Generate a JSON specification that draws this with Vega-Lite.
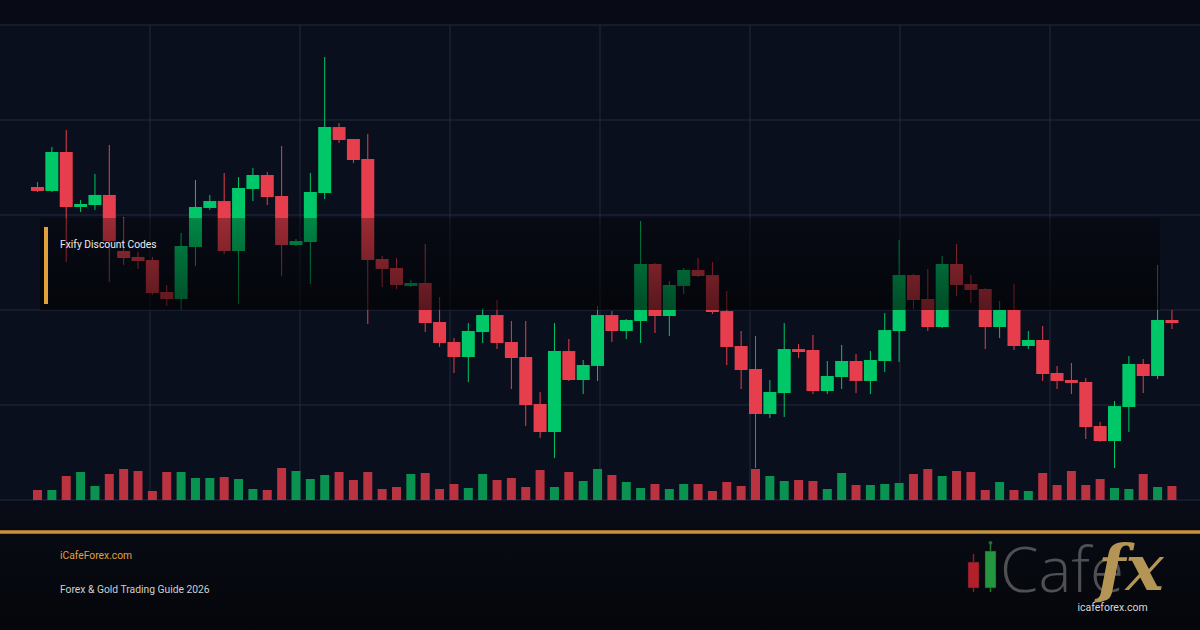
{
  "$schema": "https://vega.github.io/schema/vega-lite/v6.json",
  "width": 1200,
  "height": 630,
  "autosize": "none",
  "padding": 0,
  "background": "#0a0f1d",
  "config": {"view": {"stroke": null}, "font": "Roboto", "axis": {"disable": true}},
  "datasets": {
    "candles": [
      {"i":0,"o":2032.95,"h":2033.47,"l":2032.42,"c":2032.53,"v":1000,"d":"down"},
      {"i":1,"o":2032.53,"h":2037.16,"l":2032.42,"c":2036.63,"v":1000,"d":"up"},
      {"i":2,"o":2036.63,"h":2038.95,"l":2025.05,"c":2030.84,"v":2400,"d":"down"},
      {"i":3,"o":2030.84,"h":2031.58,"l":2030.32,"c":2031.16,"v":2800,"d":"up"},
      {"i":4,"o":2031.05,"h":2034.32,"l":2030.53,"c":2032.11,"v":1400,"d":"up"},
      {"i":5,"o":2032.11,"h":2037.37,"l":2022.95,"c":2027.26,"v":2600,"d":"down"},
      {"i":6,"o":2026.21,"h":2029.79,"l":2024.74,"c":2025.47,"v":3100,"d":"down"},
      {"i":7,"o":2025.58,"h":2026.11,"l":2024.32,"c":2025.16,"v":2900,"d":"down"},
      {"i":8,"o":2025.26,"h":2025.58,"l":2021.58,"c":2021.79,"v":900,"d":"down"},
      {"i":9,"o":2021.89,"h":2022.63,"l":2020.42,"c":2021.16,"v":2800,"d":"down"},
      {"i":10,"o":2021.16,"h":2028.11,"l":2020.0,"c":2026.74,"v":2800,"d":"up"},
      {"i":11,"o":2026.63,"h":2033.68,"l":2024.63,"c":2030.84,"v":2200,"d":"up"},
      {"i":12,"o":2030.74,"h":2032.11,"l":2030.53,"c":2031.47,"v":2200,"d":"up"},
      {"i":13,"o":2031.47,"h":2034.42,"l":2025.89,"c":2026.21,"v":2300,"d":"down"},
      {"i":14,"o":2026.21,"h":2034.0,"l":2020.63,"c":2032.84,"v":2100,"d":"up"},
      {"i":15,"o":2032.74,"h":2034.95,"l":2031.47,"c":2034.21,"v":1100,"d":"up"},
      {"i":16,"o":2034.21,"h":2034.53,"l":2031.05,"c":2031.89,"v":1000,"d":"down"},
      {"i":17,"o":2032.0,"h":2037.26,"l":2023.58,"c":2026.84,"v":3200,"d":"down"},
      {"i":18,"o":2026.84,"h":2027.47,"l":2026.74,"c":2027.26,"v":2900,"d":"up"},
      {"i":19,"o":2027.16,"h":2034.42,"l":2022.74,"c":2032.42,"v":2100,"d":"up"},
      {"i":20,"o":2032.32,"h":2046.63,"l":2031.68,"c":2039.26,"v":2500,"d":"up"},
      {"i":21,"o":2039.26,"h":2039.68,"l":2037.58,"c":2037.89,"v":2800,"d":"down"},
      {"i":22,"o":2038.0,"h":2038.0,"l":2035.47,"c":2035.79,"v":2000,"d":"down"},
      {"i":23,"o":2035.89,"h":2038.53,"l":2018.53,"c":2025.26,"v":2800,"d":"down"},
      {"i":24,"o":2025.37,"h":2025.68,"l":2022.42,"c":2024.32,"v":1100,"d":"down"},
      {"i":25,"o":2024.42,"h":2025.47,"l":2022.21,"c":2022.63,"v":1300,"d":"down"},
      {"i":26,"o":2022.53,"h":2023.16,"l":2022.42,"c":2022.84,"v":2600,"d":"up"},
      {"i":27,"o":2022.84,"h":2026.95,"l":2017.68,"c":2018.63,"v":2700,"d":"down"},
      {"i":28,"o":2018.74,"h":2021.37,"l":2016.11,"c":2016.53,"v":1100,"d":"down"},
      {"i":29,"o":2016.63,"h":2017.05,"l":2013.37,"c":2015.05,"v":1600,"d":"down"},
      {"i":30,"o":2015.05,"h":2018.63,"l":2012.42,"c":2017.79,"v":1200,"d":"up"},
      {"i":31,"o":2017.68,"h":2020.21,"l":2016.53,"c":2019.47,"v":2600,"d":"up"},
      {"i":32,"o":2019.47,"h":2021.05,"l":2015.89,"c":2016.53,"v":2000,"d":"down"},
      {"i":33,"o":2016.63,"h":2018.84,"l":2011.68,"c":2014.95,"v":2200,"d":"down"},
      {"i":34,"o":2015.05,"h":2018.84,"l":2007.79,"c":2010.0,"v":1300,"d":"down"},
      {"i":35,"o":2010.11,"h":2011.37,"l":2006.53,"c":2007.16,"v":3000,"d":"down"},
      {"i":36,"o":2007.16,"h":2018.63,"l":2004.42,"c":2015.68,"v":1300,"d":"up"},
      {"i":37,"o":2015.68,"h":2016.95,"l":2012.53,"c":2012.63,"v":2800,"d":"down"},
      {"i":38,"o":2012.63,"h":2014.74,"l":2011.16,"c":2014.21,"v":1900,"d":"up"},
      {"i":39,"o":2014.11,"h":2020.42,"l":2012.53,"c":2019.47,"v":3100,"d":"up"},
      {"i":40,"o":2019.47,"h":2019.89,"l":2016.63,"c":2017.79,"v":2500,"d":"down"},
      {"i":41,"o":2017.79,"h":2019.05,"l":2016.95,"c":2018.95,"v":1800,"d":"up"},
      {"i":42,"o":2018.84,"h":2029.37,"l":2016.53,"c":2024.84,"v":1200,"d":"up"},
      {"i":43,"o":2024.84,"h":2024.95,"l":2017.58,"c":2019.37,"v":1600,"d":"down"},
      {"i":44,"o":2019.37,"h":2023.05,"l":2017.26,"c":2022.63,"v":1100,"d":"up"},
      {"i":45,"o":2022.53,"h":2024.42,"l":2021.68,"c":2024.21,"v":1600,"d":"up"},
      {"i":46,"o":2024.21,"h":2025.47,"l":2023.47,"c":2023.58,"v":1600,"d":"down"},
      {"i":47,"o":2023.68,"h":2025.05,"l":2019.58,"c":2019.79,"v":900,"d":"down"},
      {"i":48,"o":2019.89,"h":2022.0,"l":2014.21,"c":2016.11,"v":1800,"d":"down"},
      {"i":49,"o":2016.21,"h":2017.79,"l":2011.68,"c":2013.68,"v":1400,"d":"down"},
      {"i":50,"o":2013.79,"h":2017.26,"l":2003.37,"c":2009.05,"v":3100,"d":"down"},
      {"i":51,"o":2009.05,"h":2012.63,"l":2008.63,"c":2011.37,"v":2400,"d":"up"},
      {"i":52,"o":2011.26,"h":2018.63,"l":2008.74,"c":2015.89,"v":1900,"d":"up"},
      {"i":53,"o":2015.89,"h":2016.42,"l":2014.95,"c":2015.58,"v":2000,"d":"down"},
      {"i":54,"o":2015.79,"h":2017.37,"l":2011.16,"c":2011.47,"v":1900,"d":"down"},
      {"i":55,"o":2011.47,"h":2014.63,"l":2011.16,"c":2013.05,"v":1100,"d":"up"},
      {"i":56,"o":2012.95,"h":2016.32,"l":2011.68,"c":2014.63,"v":2700,"d":"up"},
      {"i":57,"o":2014.63,"h":2015.37,"l":2011.26,"c":2012.53,"v":1500,"d":"down"},
      {"i":58,"o":2012.53,"h":2015.68,"l":2011.16,"c":2014.74,"v":1500,"d":"up"},
      {"i":59,"o":2014.63,"h":2019.68,"l":2013.47,"c":2017.89,"v":1600,"d":"up"},
      {"i":60,"o":2017.79,"h":2027.37,"l":2014.53,"c":2023.68,"v":1700,"d":"up"},
      {"i":61,"o":2023.68,"h":2023.79,"l":2020.11,"c":2021.05,"v":2600,"d":"down"},
      {"i":62,"o":2021.16,"h":2024.32,"l":2017.79,"c":2018.21,"v":3100,"d":"down"},
      {"i":63,"o":2018.21,"h":2025.68,"l":2018.11,"c":2024.84,"v":2400,"d":"up"},
      {"i":64,"o":2024.84,"h":2026.95,"l":2021.47,"c":2022.63,"v":2900,"d":"down"},
      {"i":65,"o":2022.74,"h":2023.68,"l":2020.74,"c":2022.11,"v":2800,"d":"down"},
      {"i":66,"o":2022.21,"h":2022.32,"l":2015.89,"c":2018.21,"v":1000,"d":"down"},
      {"i":67,"o":2018.21,"h":2020.95,"l":2017.05,"c":2020.0,"v":1800,"d":"up"},
      {"i":68,"o":2020.0,"h":2022.74,"l":2015.79,"c":2016.21,"v":1000,"d":"down"},
      {"i":69,"o":2016.21,"h":2017.79,"l":2015.89,"c":2016.84,"v":900,"d":"up"},
      {"i":70,"o":2016.84,"h":2018.32,"l":2012.53,"c":2013.26,"v":2700,"d":"down"},
      {"i":71,"o":2013.37,"h":2014.11,"l":2011.68,"c":2012.53,"v":1500,"d":"down"},
      {"i":72,"o":2012.63,"h":2014.42,"l":2011.16,"c":2012.32,"v":2900,"d":"down"},
      {"i":73,"o":2012.42,"h":2012.84,"l":2006.42,"c":2007.68,"v":1500,"d":"down"},
      {"i":74,"o":2007.79,"h":2008.21,"l":2006.11,"c":2006.21,"v":2100,"d":"down"},
      {"i":75,"o":2006.21,"h":2010.42,"l":2003.37,"c":2009.89,"v":1200,"d":"up"},
      {"i":76,"o":2009.79,"h":2015.16,"l":2007.16,"c":2014.32,"v":1100,"d":"up"},
      {"i":77,"o":2014.32,"h":2014.84,"l":2011.26,"c":2013.05,"v":2600,"d":"down"},
      {"i":78,"o":2013.05,"h":2024.74,"l":2012.74,"c":2018.95,"v":1300,"d":"up"},
      {"i":79,"o":2018.95,"h":2020.0,"l":2018.0,"c":2018.63,"v":1400,"d":"down"}
    ]
  },
  "resolve": {"scale": {"x": "independent", "y": "independent", "color": "independent"}},
  "layer": [
    {
      "data": {"values": [{"p1": 2050, "p2": 2052.6316}]},
      "mark": {"type": "rect", "fill": "#080b16"},
      "encoding": {
        "y": {"field": "p1", "type": "quantitative", "scale": {"domain": [1986.3158, 2052.6316], "nice": false, "zero": false}, "axis": null},
        "y2": {"field": "p2"}
      }
    },
    {
      "data": {"values": [{"p1": 1986.3158, "p2": 2000}]},
      "mark": {"type": "rect", "fill": {"gradient": "linear", "x1": 0, "y1": 0, "x2": 0, "y2": 1, "stops": [{"offset": 0, "color": "#090c16"}, {"offset": 1, "color": "#04060a"}]}},
      "encoding": {
        "y": {"field": "p1", "type": "quantitative", "scale": {"domain": [1986.3158, 2052.6316], "nice": false, "zero": false}, "axis": null},
        "y2": {"field": "p2"}
      }
    },
    {
      "data": {"values": [{"p": 2000}, {"p": 2010}, {"p": 2020}, {"p": 2030}, {"p": 2040}, {"p": 2050}]},
      "mark": {"type": "rule", "stroke": "#232a3c", "strokeWidth": 1},
      "encoding": {
        "y": {"field": "p", "type": "quantitative", "scale": {"domain": [1986.3158, 2052.6316], "nice": false, "zero": false}, "axis": null}
      }
    },
    {
      "data": {"values": [{"g": 1}, {"g": 2}, {"g": 3}, {"g": 4}, {"g": 5}, {"g": 6}, {"g": 7}]},
      "mark": {"type": "rule", "stroke": "#232a3c", "strokeWidth": 1},
      "encoding": {
        "x": {"field": "g", "type": "quantitative", "scale": {"domain": [0, 8], "nice": false, "zero": false}, "axis": null},
        "y": {"datum": 2000, "type": "quantitative", "scale": {"domain": [1986.3158, 2052.6316], "nice": false, "zero": false}, "axis": null},
        "y2": {"datum": 2050}
      }
    },
    {
      "data": {"name": "candles"},
      "mark": {"type": "rule", "strokeWidth": 9, "strokeCap": "butt"},
      "encoding": {
        "x": {"field": "i", "type": "quantitative", "scale": {"domain": [-2.6114, 80.954], "nice": false, "zero": false}, "axis": null},
        "y": {"field": "v", "type": "quantitative", "scale": {"domain": [-13000, 50000], "nice": false, "zero": false}, "axis": null},
        "y2": {"datum": 0},
        "color": {"field": "d", "type": "nominal", "scale": {"domain": ["up", "down"], "range": ["#0a9350", "#bb3340"]}, "legend": null}
      }
    },
    {
      "data": {"name": "candles"},
      "mark": {"type": "rule", "strokeWidth": 1},
      "encoding": {
        "x": {"field": "i", "type": "quantitative", "scale": {"domain": [-2.6114, 80.954], "nice": false, "zero": false}, "axis": null},
        "y": {"field": "l", "type": "quantitative", "scale": {"domain": [1986.3158, 2052.6316], "nice": false, "zero": false}, "axis": null},
        "y2": {"field": "h"},
        "color": {"field": "d", "type": "nominal", "scale": {"domain": ["up", "down"], "range": ["#00c767", "#e63e4c"]}, "legend": null}
      }
    },
    {
      "data": {"name": "candles"},
      "mark": {"type": "rule", "strokeWidth": 13, "strokeCap": "butt"},
      "encoding": {
        "x": {"field": "i", "type": "quantitative", "scale": {"domain": [-2.6114, 80.954], "nice": false, "zero": false}, "axis": null},
        "y": {"field": "o", "type": "quantitative", "scale": {"domain": [1986.3158, 2052.6316], "nice": false, "zero": false}, "axis": null},
        "y2": {"field": "c"},
        "color": {"field": "d", "type": "nominal", "scale": {"domain": ["up", "down"], "range": ["#00c767", "#e63e4c"]}, "legend": null}
      }
    },
    {
      "data": {"values": [{"g1": 0.2667, "g2": 7.7333, "p1": 2029.68, "p2": 2020.0}]},
      "mark": {"type": "rect", "fill": {"gradient": "linear", "x1": 0, "y1": 0, "x2": 0, "y2": 1, "stops": [{"offset": 0, "color": "rgba(0,0,0,0.32)"}, {"offset": 1, "color": "rgba(0,0,0,0.62)"}]}},
      "encoding": {
        "x": {"field": "g1", "type": "quantitative", "scale": {"domain": [0, 8], "nice": false, "zero": false}, "axis": null},
        "x2": {"field": "g2"},
        "y": {"field": "p1", "type": "quantitative", "scale": {"domain": [1986.3158, 2052.6316], "nice": false, "zero": false}, "axis": null},
        "y2": {"field": "p2"}
      }
    },
    {
      "data": {"values": [{"g1": 0.2933, "g2": 0.32, "p1": 2028.74, "p2": 2020.63}]},
      "mark": {"type": "rect", "fill": "#e0a03a"},
      "encoding": {
        "x": {"field": "g1", "type": "quantitative", "scale": {"domain": [0, 8], "nice": false, "zero": false}, "axis": null},
        "x2": {"field": "g2"},
        "y": {"field": "p1", "type": "quantitative", "scale": {"domain": [1986.3158, 2052.6316], "nice": false, "zero": false}, "axis": null},
        "y2": {"field": "p2"}
      }
    },
    {
      "data": {"values": [{"p": 1996.63}]},
      "mark": {"type": "rule", "stroke": "#c8913b", "strokeWidth": 3.5},
      "encoding": {
        "y": {"field": "p", "type": "quantitative", "scale": {"domain": [1986.3158, 2052.6316], "nice": false, "zero": false}, "axis": null}
      }
    },
    {
      "data": {"values": [
        {"g": 0.4, "p": 2026.84, "t": "Fxify Discount Codes", "k": "a"},
        {"g": 0.4, "p": 1994.11, "t": "iCafeForex.com", "k": "b"},
        {"g": 0.4, "p": 1990.53, "t": "Forex & Gold Trading Guide 2026", "k": "c"}
      ]},
      "mark": {"type": "text", "align": "left", "baseline": "middle", "fontSize": 10.3, "font": "Roboto"},
      "encoding": {
        "x": {"field": "g", "type": "quantitative", "scale": {"domain": [0, 8], "nice": false, "zero": false}, "axis": null},
        "y": {"field": "p", "type": "quantitative", "scale": {"domain": [1986.3158, 2052.6316], "nice": false, "zero": false}, "axis": null},
        "text": {"field": "t"},
        "color": {"field": "k", "type": "nominal", "scale": {"domain": ["a", "b", "c"], "range": ["#ececec", "#e0a042", "#cfcfcf"]}, "legend": null}
      }
    },
    {
      "data": {"values": [
        {"g": 6.49, "p1": 1990.32, "p2": 1994.32, "k": "r"},
        {"g": 6.6033, "p1": 1990.32, "p2": 1995.47, "k": "g"}
      ]},
      "mark": {"type": "rule", "strokeWidth": 1.5},
      "encoding": {
        "x": {"field": "g", "type": "quantitative", "scale": {"domain": [0, 8], "nice": false, "zero": false}, "axis": null},
        "y": {"field": "p1", "type": "quantitative", "scale": {"domain": [1986.3158, 2052.6316], "nice": false, "zero": false}, "axis": null},
        "y2": {"field": "p2"},
        "color": {"field": "k", "type": "nominal", "scale": {"domain": ["r", "g"], "range": ["#8a1c26", "#1f7a35"]}, "legend": null}
      }
    },
    {
      "data": {"values": [
        {"g1": 6.4533, "g2": 6.5267, "p1": 1990.74, "p2": 1993.47, "k": "r"},
        {"g1": 6.5667, "g2": 6.64, "p1": 1990.74, "p2": 1994.63, "k": "g"}
      ]},
      "mark": {"type": "rect", "stroke": "#202020", "strokeWidth": 0.5},
      "encoding": {
        "x": {"field": "g1", "type": "quantitative", "scale": {"domain": [0, 8], "nice": false, "zero": false}, "axis": null},
        "x2": {"field": "g2"},
        "y": {"field": "p1", "type": "quantitative", "scale": {"domain": [1986.3158, 2052.6316], "nice": false, "zero": false}, "axis": null},
        "y2": {"field": "p2"},
        "color": {"field": "k", "type": "nominal", "scale": {"domain": ["r", "g"], "range": ["#b3202c", "#23963f"]}, "legend": null}
      }
    },
    {
      "data": {"values": [{"g": 6.6033, "p": 1995.5}]},
      "mark": {"type": "circle", "size": 14, "color": "#2a6a3a", "opacity": 1},
      "encoding": {
        "x": {"field": "g", "type": "quantitative", "scale": {"domain": [0, 8], "nice": false, "zero": false}, "axis": null},
        "y": {"field": "p", "type": "quantitative", "scale": {"domain": [1986.3158, 2052.6316], "nice": false, "zero": false}, "axis": null}
      }
    },
    {
      "data": {"values": [{"g": 6.6667, "p": 1990.32, "t": "Cafe"}]},
      "mark": {"type": "text", "align": "left", "baseline": "alphabetic", "fontSize": 62, "font": "Open Sans", "fontWeight": 300, "color": "#4f5053"},
      "encoding": {
        "x": {"field": "g", "type": "quantitative", "scale": {"domain": [0, 8], "nice": false, "zero": false}, "axis": null},
        "y": {"field": "p", "type": "quantitative", "scale": {"domain": [1986.3158, 2052.6316], "nice": false, "zero": false}, "axis": null},
        "text": {"field": "t"}
      }
    },
    {
      "data": {"values": [{"g": 7.32, "p": 1990.53, "t": "fx"}]},
      "mark": {"type": "text", "align": "left", "baseline": "alphabetic", "fontSize": 64, "font": "DejaVu Serif", "fontWeight": "bold", "fontStyle": "italic", "color": "#b59556"},
      "encoding": {
        "x": {"field": "g", "type": "quantitative", "scale": {"domain": [0, 8], "nice": false, "zero": false}, "axis": null},
        "y": {"field": "p", "type": "quantitative", "scale": {"domain": [1986.3158, 2052.6316], "nice": false, "zero": false}, "axis": null},
        "text": {"field": "t"}
      }
    },
    {
      "data": {"values": [{"g": 7.4167, "p": 1988.63, "t": "icafeforex.com"}]},
      "mark": {"type": "text", "align": "center", "baseline": "middle", "fontSize": 10.5, "font": "Roboto", "color": "#d8d8d8"},
      "encoding": {
        "x": {"field": "g", "type": "quantitative", "scale": {"domain": [0, 8], "nice": false, "zero": false}, "axis": null},
        "y": {"field": "p", "type": "quantitative", "scale": {"domain": [1986.3158, 2052.6316], "nice": false, "zero": false}, "axis": null},
        "text": {"field": "t"}
      }
    }
  ]
}
